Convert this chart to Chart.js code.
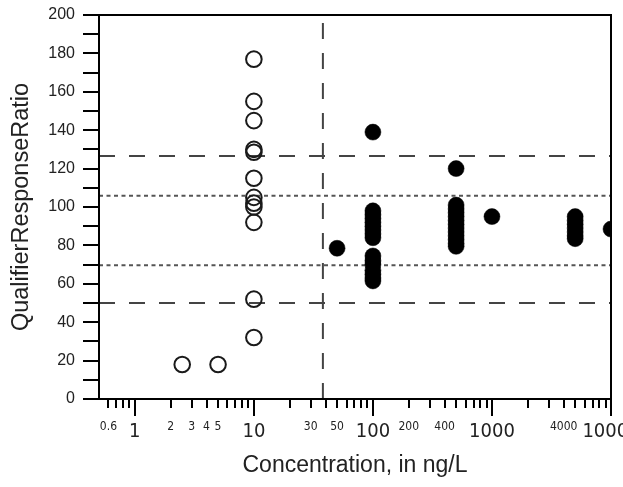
<!DOCTYPE html>
<html><head><meta charset="utf-8">
<script src="https://cdn.jsdelivr.net/npm/chart.js@4/dist/chart.umd.min.js"></script>
<style>html,body{margin:0;padding:0;background:#fff;overflow:hidden}</style>
</head><body>
<canvas id="c" width="623" height="487"></canvas>
<script>
// ---- data ----
const openX = [10, 10, 10, 10, 10, 10, 10, 10, 10, 10, 10, 10, 2.5, 5];
const openY = [177, 155, 145, 130, 128.5, 115, 105, 102, 100, 92, 52, 32, 18, 18];

const filledX = [50, 100,
  100, 100, 100, 100, 100, 100, 100, 100,
  100, 100, 100, 100, 100, 100, 100,
  500,
  500, 500, 500, 500, 500, 500, 500, 500, 500, 500, 500, 500,
  1000,
  5000, 5000, 5000, 5000, 5000, 5000, 5000,
  10000];
const filledY = [78.5, 139,
  98, 96, 94, 92, 90, 88, 86, 84,
  74.5, 72, 70, 67, 65, 63, 61.5,
  120,
  101, 99, 97, 95, 93, 91, 89, 87, 85, 83, 81, 79.5,
  95,
  95, 93, 91, 89, 87, 85, 83.5,
  88.5];

const refDashedY = [126.6, 50];
const refDottedY = [105.8, 69.6];
const refVerticalX = [38];

const xLabelValues = [0.6, 1, 2, 3, 4, 5, 10, 30, 50, 100, 200, 400, 1000, 4000, 10000];
const xLabelTexts  = ['0.6', '1', '2', '3', '4', '5', '10', '30', '50', '100', '200', '400', '1000', '4000', '10000'];
const xMajorTicks = [1, 10, 100, 1000, 10000];
const xMinorTicks = [0.6, 0.7, 0.8, 0.9, 2, 3, 4, 5, 6, 7, 8, 9, 20, 30, 40, 50, 60, 70, 80, 90,
  200, 300, 400, 500, 600, 700, 800, 900, 2000, 3000, 4000, 5000, 6000, 7000, 8000, 9000];
const yTickValues = [0, 10, 20, 30, 40, 50, 60, 70, 80, 90, 100, 110, 120, 130, 140, 150, 160, 170, 180, 190, 200];
const yLabelStep = 20;

const xMin = 0.5, xMax = 10000, yMin = 0, yMax = 200;
const xTitle = 'Concentration, in ng/L';
const yTitle = 'QualifierResponseRatio';

// ---- chart ----
const NARROW = '"Liberation Sans Narrow", "DejaVu Sans Condensed", "Liberation Sans", sans-serif';
const SANS = '"Liberation Sans", Arial, sans-serif';

const ticksPlugin = {
  id: 'ticksFrame',
  afterDatasetsDraw(chart) {
    const {ctx, chartArea, scales} = chart;
    const {left, right, top, bottom} = chartArea;
    const x = scales.x, y = scales.y;
    ctx.save();
    ctx.strokeStyle = '#000';
    ctx.lineWidth = 2;
    ctx.strokeRect(left, top, right - left, bottom - top);
    ctx.beginPath();
    xMajorTicks.forEach(v => { const p = Math.round(x.getPixelForValue(v)); ctx.moveTo(p, bottom); ctx.lineTo(p, bottom + 17); });
    xMinorTicks.forEach(v => { const p = Math.round(x.getPixelForValue(v)); ctx.moveTo(p, bottom); ctx.lineTo(p, bottom + 9); });
    yTickValues.forEach(v => { const p = Math.round(y.getPixelForValue(v)); ctx.moveTo(left, p); ctx.lineTo(left - 16, p); });
    ctx.stroke();
    ctx.restore();
  }
};

function pts(xs, ys) { return xs.map((v, i) => ({x: v, y: ys[i]})); }

const datasets = [
  { label: 'open', data: pts(openX, openY), pointStyle: 'circle', pointRadius: 7.8, borderWidth: 2,
    borderColor: '#1a1a1a', backgroundColor: 'rgba(0,0,0,0)', showLine: false, clip: 0 },
  { label: 'filled', data: pts(filledX, filledY), pointStyle: 'circle', pointRadius: 8, borderWidth: 0.5,
    borderColor: '#000', backgroundColor: '#000', showLine: false, clip: 0 },
];
refDashedY.forEach(v => datasets.push({ data: [{x: xMin, y: v}, {x: xMax, y: v}], showLine: true, pointRadius: 0,
  borderColor: '#444', borderWidth: 2, borderDash: [16, 14], clip: 0 }));
refDottedY.forEach(v => datasets.push({ data: [{x: xMin, y: v}, {x: xMax, y: v}], showLine: true, pointRadius: 0,
  borderColor: '#555', borderWidth: 2, borderDash: [4, 3.5], clip: 0 }));
refVerticalX.forEach(v => datasets.push({ data: [{x: v, y: yMin}, {x: v, y: yMax}], showLine: true, pointRadius: 0,
  borderColor: '#444', borderWidth: 2, borderDash: [16, 14], clip: 0 }));

new Chart(document.getElementById('c'), {
  type: 'scatter',
  data: { datasets },
  plugins: [ticksPlugin],
  options: {
    responsive: false,
    animation: false,
    events: [],
    layout: { padding: { left: 0, top: 15, right: 12, bottom: 0 } },
    plugins: { legend: { display: false }, tooltip: { enabled: false } },
    scales: {
      x: {
        type: 'logarithmic', position: 'bottom', min: xMin, max: xMax,
        grid: { display: false, drawTicks: false },
        border: { display: false },
        afterBuildTicks(scale) { scale.ticks = xLabelValues.map(v => ({value: v})); },
        afterFit(scale) { scale.height = 88; scale.paddingLeft = 0; scale.paddingRight = 0; },
        ticks: {
          autoSkip: false, maxRotation: 0, minRotation: 0, padding: 21, color: '#222',
          callback(value) { const i = xLabelValues.indexOf(value); return i >= 0 ? xLabelTexts[i] : ''; },
          font: (ctx) => (ctx.tick && xMajorTicks.includes(ctx.tick.value))
            ? { family: NARROW, size: 20 } : { family: NARROW, size: 12 },
        },
        title: { display: true, text: xTitle, color: '#222', font: { family: SANS, size: 23 }, padding: { top: 0, bottom: 8 } },
      },
      y: {
        type: 'linear', position: 'left', min: yMin, max: yMax,
        grid: { display: false, drawTicks: false },
        border: { display: false },
        afterFit(scale) { scale.width = 99; scale.paddingTop = 0; scale.paddingBottom = 0; },
        ticks: {
          stepSize: yLabelStep, padding: 24, color: '#222',
          font: { family: SANS, size: 16 },
        },
        title: { display: true, text: yTitle, color: '#222', font: { family: SANS, size: 23.5 }, padding: { top: 7, bottom: 0 } },
      },
    },
  },
});
</script>
</body></html>
